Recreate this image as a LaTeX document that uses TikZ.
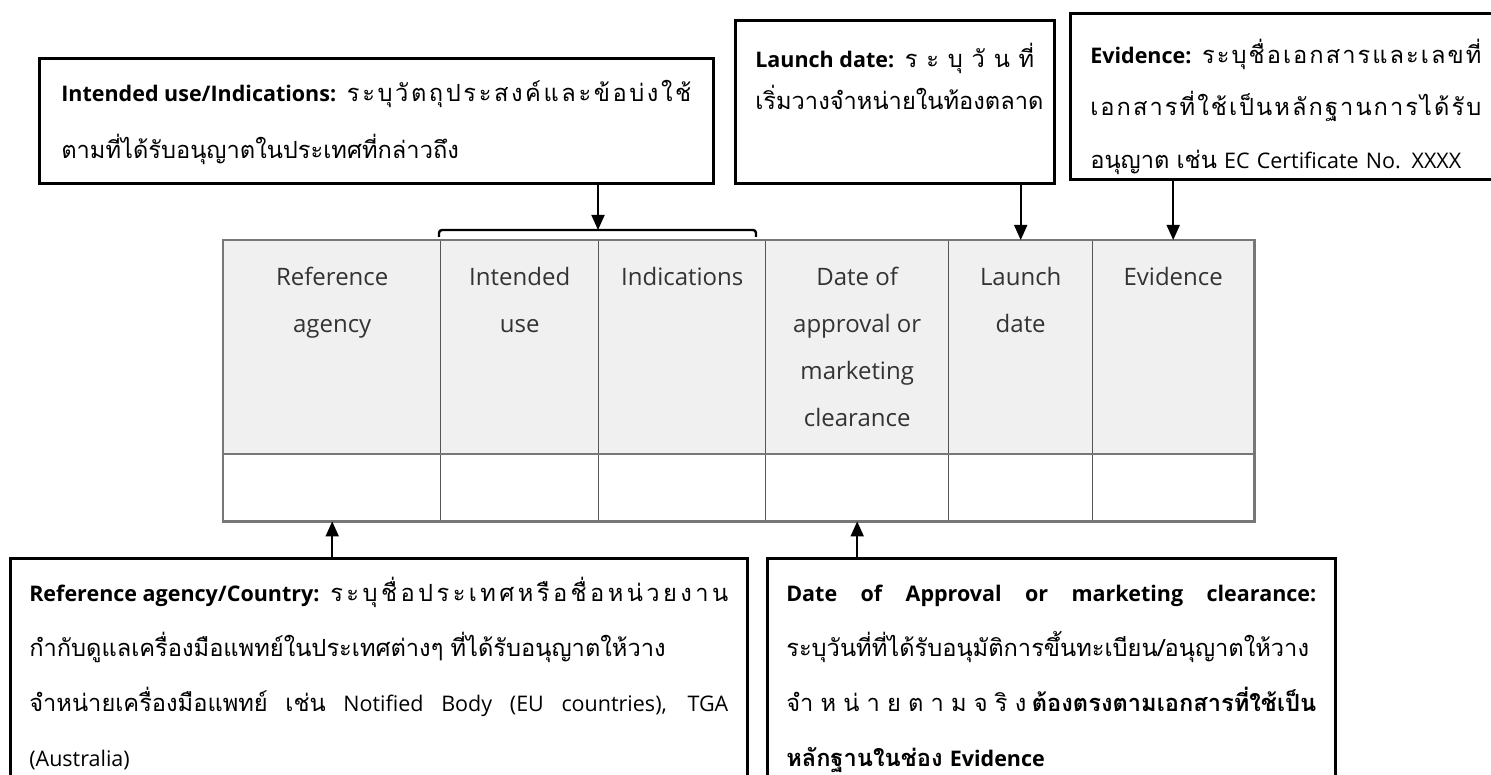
\documentclass[tikz,border=0pt]{standalone}
\usepackage{fontspec}
\setmainfont{Open Sans}
\newfontfamily\thai[Script=Thai,Scale=1.1]{Loma}
\usepackage{xcolor}
\usepackage{tikz}
\usetikzlibrary{arrows.meta,positioning}

\definecolor{headfill}{HTML}{F0F0F0}
\definecolor{gridgray}{HTML}{555555}
\definecolor{headtext}{HTML}{333333}

% Thai lines spread to the full width (distributed justification)
\newXeTeXintercharclass\thbase
\newXeTeXintercharclass\thmark
\newcount\thcnt
\thcnt="0E01
\loop
  \XeTeXcharclass\thcnt=\thbase
  \ifnum\thcnt<"0E5B \advance\thcnt by 1
\repeat
\XeTeXcharclass"0E31=\thmark
\XeTeXcharclass"0E33=\thmark
\XeTeXcharclass"0E34=\thmark
\XeTeXcharclass"0E35=\thmark
\XeTeXcharclass"0E36=\thmark
\XeTeXcharclass"0E37=\thmark
\XeTeXcharclass"0E38=\thmark
\XeTeXcharclass"0E39=\thmark
\XeTeXcharclass"0E3A=\thmark
\XeTeXcharclass"0E47=\thmark
\XeTeXcharclass"0E48=\thmark
\XeTeXcharclass"0E49=\thmark
\XeTeXcharclass"0E4A=\thmark
\XeTeXcharclass"0E4B=\thmark
\XeTeXcharclass"0E4C=\thmark
\XeTeXcharclass"0E4D=\thmark
\XeTeXcharclass"0E4E=\thmark
\XeTeXinterchartoks\thbase\thbase={\hfill}
\XeTeXinterchartoks\thmark\thbase={\hfill}
\newcommand\spreadline[2]{\leavevmode\hbox to #1{\spaceskip=\fontdimen2\font plus 1fil\relax\XeTeXinterchartokenstate=1 #2}}
\newcommand\spreadwords[2]{\leavevmode\hbox to #1{\spaceskip=\fontdimen2\font plus 1fil\relax #2}}

\begin{document}
\begin{tikzpicture}
[x=1pt,y=-1pt,
 note/.style={draw,line width=2.6pt,anchor=north west,inner ysep=0pt,align=left},
 hcell/.style={draw=gridgray,line width=1.4pt,fill=headfill,anchor=north west,minimum height=213pt,inner sep=0pt},
 bcell/.style={draw=gridgray,line width=1.4pt,anchor=north west,minimum height=67pt,inner sep=0pt},
 htext/.style={anchor=north,align=center,inner sep=0pt,text=headtext,font=\fontsize{24}{47}\selectfont},
 arr/.style={line width=1.8pt,-{Triangle[length=15pt,width=13pt]}}];
\useasboundingbox (0,0) rectangle (1491,775);

% header row
\node[hcell,minimum width=217pt] (h1) at (223,240) {};
\node[hcell,minimum width=158pt] (h2) at (440,240) {};
\node[hcell,minimum width=167pt] (h3) at (598,240) {};
\node[hcell,minimum width=183pt] (h4) at (765,240) {};
\node[hcell,minimum width=144pt] (h5) at (948,240) {};
\node[hcell,minimum width=161pt] (h6) at (1092,240) {};
% empty row
\node[bcell,minimum width=217pt] (b1) at (223,453) {};
\node[bcell,minimum width=158pt] (b2) at (440,453) {};
\node[bcell,minimum width=167pt] (b3) at (598,453) {};
\node[bcell,minimum width=183pt] (b4) at (765,453) {};
\node[bcell,minimum width=144pt] (b5) at (948,453) {};
\node[bcell,minimum width=161pt] (b6) at (1092,453) {};
\draw[gridgray!80,line width=2.6pt] (h1.north west) rectangle (b6.south east);
\draw[gridgray!80,line width=2pt] (h1.south west) -- (h6.south east);

\node[htext] (t1) at ([yshift=-27pt]h1.north) {Reference\\agency};
\node[htext] (t2) at ([yshift=-27pt]h2.north) {Intended\\use};
\node[htext] (t3) at ([yshift=-27pt]h3.north) {Indications};
\node[htext] (t4) at ([yshift=-27pt]h4.north) {Date of\\approval or\\marketing\\clearance};
\node[htext] (t5) at ([yshift=-27pt]h5.north) {Launch\\date};
\node[htext] (t6) at ([yshift=-27pt]h6.north) {Evidence};

% notes above
\node[note,text width=630pt,inner xsep=22pt,text height=43pt,text depth=82pt,font=\fontsize{21.5}{57}\selectfont] (iu) at (38,57)
  {\spreadline{630pt}{\textbf{Intended use/Indications:} {\thai ระบุวัตถุประสงค์และข้อบ่งใช้}}\\{\thai ตามที่ได้รับอนุญาตในประเทศที่กล่าวถึง}};
\node[note,text width=279pt,inner xsep=20pt,text height=47pt,text depth=116pt,font=\fontsize{21.5}{42}\selectfont] (launch) at (734,19)
  {\spreadline{279pt}{\textbf{Launch date:} {\thai ระบุวันที่}}\\{\thai เริ่มวางจำหน่ายในท้องตลาด}};
\node[note,text width=430pt,inner xsep=20pt,text height=50pt,text depth=116pt,font=\fontsize{21.5}{52.5}\selectfont] (evid) at (1069,12)
  {\spreadline{391pt}{\textbf{Evidence:} {\thai ระบุชื่อเอกสารและเลขที่}}\\
   \spreadline{391pt}{\thai เอกสารที่ใช้เป็นหลักฐานการได้รับ}\\
   {\thai อนุญาต เช่น} EC Certificate No. XXXX};

% notes below
\node[note,text width=699pt,inner xsep=19pt,text height=43pt,text depth=200pt,font=\fontsize{21.5}{55}\selectfont] (refbox) at (9,557)
  {\spreadline{699pt}{\textbf{Reference agency/Country:} {\thai ระบุชื่อประเทศหรือชื่อหน่วยงาน}}\\
   {\thai กำกับดูแลเครื่องมือแพทย์ในประเทศต่างๆ ที่ได้รับอนุญาตให้วาง}\\
   \spreadwords{699pt}{{\thai จำหน่ายเครื่องมือแพทย์ เช่น} Notified Body (EU countries), TGA}\\
   (Australia)};
\node[note,text width=530pt,inner xsep=19pt,text height=43pt,text depth=200pt,font=\fontsize{21.5}{55}\selectfont] (doa) at (766,557)
  {\spreadwords{530pt}{\textbf{Date of Approval or marketing clearance:}}\\
   {\thai ระบุวันที่ที่ได้รับอนุมัติการขึ้นทะเบียน/อนุญาตให้วาง}\\
   \spreadline{530pt}{\thai จำหน่ายตามจริง \textbf{\XeTeXinterchartokenstate=0 ต้องตรงตามเอกสารที่ใช้เป็น}}\\
   \textbf{{\thai หลักฐานในช่อง} Evidence}};

% bracket over intended use + indications
\coordinate (bl) at (439,237);
\coordinate (bm) at (598,230);
\coordinate (br) at (756,237);
\draw[line width=2.4pt,rounded corners=3pt] (bl) |- (bm) -| (br);

% connectors
\draw[arr] (iu.south -| bm) -- (bm);
\draw[arr] (launch.south -| h5.north) -- (h5.north);
\draw[arr] (evid.south -| h6.north) -- (h6.north);
\draw[arr] (refbox.north -| b1.south) -- (b1.south);
\draw[arr] (doa.north -| b4.south) -- (b4.south);
\end{tikzpicture}
\end{document}
